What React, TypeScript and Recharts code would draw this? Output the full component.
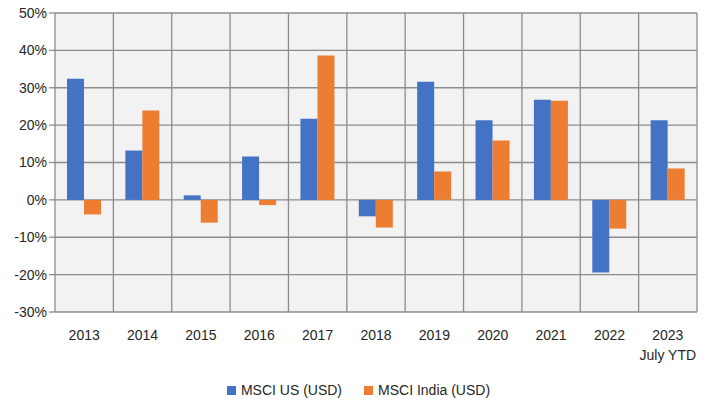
import { BarChart, Bar, XAxis, YAxis, CartesianGrid, Legend } from 'recharts'

const categories = ['2013', '2014', '2015', '2016', '2017', '2018', '2019', '2020', '2021', '2022', '2023\nJuly YTD']
const msciUs = [32.4, 13.2, 1.2, 11.6, 21.7, -4.4, 31.6, 21.3, 26.8, -19.4, 21.3]
const msciIndia = [-3.9, 23.9, -6.1, -1.4, 38.6, -7.4, 7.6, 15.9, 26.5, -7.7, 8.4]
const yTicks = [-30, -20, -10, 0, 10, 20, 30, 40, 50]

const data = categories.map((c, i) => ({ year: c, us: msciUs[i], india: msciIndia[i] }))

const FONT = '"Liberation Sans", Arial, sans-serif'
const GRID = '#8c8c8c'
const TEXT = '#262626'

function YearTick({ x, y, payload }: { x?: number; y?: number; payload?: { value: string } }) {
  const lines = (payload?.value ?? '').split('\n')
  return (
    <text x={x} y={y} textAnchor="middle" fill={TEXT} fontSize={14} fontFamily={FONT}>
      {lines.map((l, i) => (
        <tspan key={i} x={x} dy={i === 0 ? 20 : 20}>
          {l}
        </tspan>
      ))}
    </text>
  )
}

function LegendContent() {
  const items = [
    { name: 'MSCI US (USD)', color: '#4472c4' },
    { name: 'MSCI India (USD)', color: '#ed7d31' },
  ]
  return (
    <div style={{ display: 'flex', justifyContent: 'center', gap: 22, fontFamily: FONT, fontSize: 14, color: TEXT, paddingLeft: 20, paddingTop: 8 }}>
      {items.map((it) => (
        <div key={it.name} style={{ display: 'flex', alignItems: 'center', gap: 5 }}>
          <span style={{ width: 9, height: 9, background: it.color, display: 'inline-block' }} />
          <span>{it.name}</span>
        </div>
      ))}
    </div>
  )
}

export default function App() {
  return (
    <div style={{ position: 'absolute', left: 0, top: 0, width: 713, height: 412, background: '#fff' }}>
      <BarChart
        width={713}
        height={412}
        data={data}
        margin={{ top: 13, right: 16, left: 0, bottom: 0 }}
        barCategoryGap={12}
        barGap={0}
      >
        <CartesianGrid
          fill="#f2f2f2"
          stroke={GRID}
          strokeWidth={1.3}
          verticalCoordinatesGenerator={({ offset }: any) =>
            categories.concat(['']).map((_, i) => offset.left + (i * offset.width) / categories.length)
          }
        />
        <XAxis dataKey="year" axisLine={false} tickLine={false} height={62} interval={0} tick={<YearTick />} />
        <YAxis
          domain={[-30, 50]}
          ticks={yTicks}
          width={55}
          axisLine={false}
          tickLine={{ stroke: GRID, strokeWidth: 1.3 }}
          tickSize={6}
          tickFormatter={(v) => `${v}%`}
          tick={{ fill: TEXT, fontSize: 14, fontFamily: FONT }}
        />
        <Legend verticalAlign="bottom" height={38} content={<LegendContent />} />
        <Bar dataKey="us" name="MSCI US (USD)" fill="#4472c4" isAnimationActive={false} />
        <Bar dataKey="india" name="MSCI India (USD)" fill="#ed7d31" isAnimationActive={false} />
      </BarChart>
    </div>
  )
}
